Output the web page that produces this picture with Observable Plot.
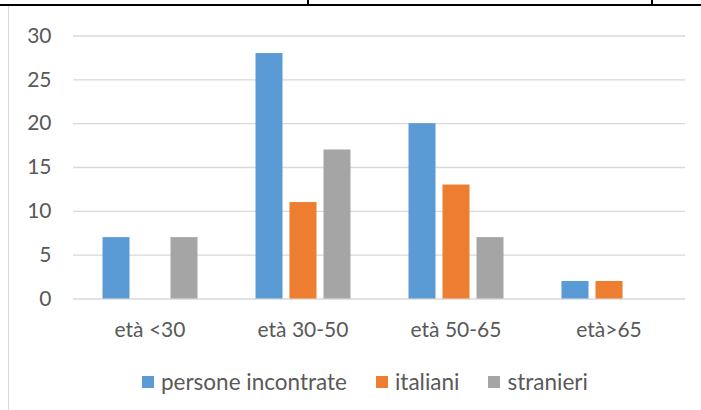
<!DOCTYPE html>
<html>
<head>
<meta charset="utf-8">
<script src="https://cdn.jsdelivr.net/npm/d3@7"></script>
<script src="https://cdn.jsdelivr.net/npm/@observablehq/plot@0.6"></script>
<style>
  html, body { margin: 0; padding: 0; background: #fff; }
  #wrap { position: relative; width: 701px; height: 410px; overflow: hidden; background: #fff; font-family: Lato, sans-serif; }
  #topline { position: absolute; left: 0; top: 4px; width: 701px; height: 2px; background: #000; }
  .tick { position: absolute; top: 0; width: 2px; height: 5px; background: #000; }
  #frame { position: absolute; left: 8px; top: 6px; width: 1px; height: 404px; background: #d9d9d9; }
  #chart { position: absolute; left: 0; top: 0; }
  #legend { position: absolute; left: 142px; top: 368px; display: flex; align-items: center; font-family: Lato, sans-serif; font-size: 22.5px; color: #595959; white-space: nowrap; }
  .item { display: flex; align-items: center; margin-right: 29px; }
  .sw { width: 12px; height: 12px; margin-right: 7px; }
</style>
</head>
<body>
<div id="wrap">
  <div id="frame"></div>
  <div id="topline"></div>
  <div class="tick" style="left:307px"></div>
  <div class="tick" style="left:651px"></div>
  <div id="chart"></div>
  <div id="legend"></div>
</div>
<script>
const categories = ["età <30", "età 30-50", "età 50-65", "età>65"];
const seriesNames = ["persone incontrate", "italiani", "stranieri"];
const persone = [7, 28, 20, 2];
const italiani = [0, 11, 13, 2];
const stranieri = [7, 17, 7, 0];
const yTicks = [0, 5, 10, 15, 20, 25, 30];
const colors = ["#5b9bd5", "#ed7d31", "#a5a5a5"];

const seriesValues = [persone, italiani, stranieri];
const data = [];
categories.forEach((c, i) => {
  seriesNames.forEach((s, j) => {
    data.push({group: c, series: s, value: seriesValues[j][i]});
  });
});

const chart = Plot.plot({
  width: 701,
  height: 345,
  marginTop: 35.5,
  marginBottom: 46.5,
  marginLeft: 72.5,
  marginRight: 16.5,
  style: {fontFamily: "Lato, sans-serif", fontSize: "21px", color: "#595959", background: "transparent"},
  facet: {data: data, x: "group"},
  fx: {domain: categories, axis: "bottom", paddingInner: 0, paddingOuter: 0, tickSize: 0, tickPadding: 23, label: null},
  x: {domain: seriesNames, axis: null, paddingInner: 0.22, paddingOuter: 0.86},
  y: {domain: [0, 30], ticks: yTicks, tickSize: 0, tickPadding: 22, label: null},
  color: {domain: seriesNames, range: colors},
  marks: [
    Plot.ruleY(yTicks, {stroke: "#d9d9d9", strokeWidth: 1.3}),
    Plot.barY(data, {x: "series", y: "value", fill: "series"})
  ]
});
document.getElementById("chart").appendChild(chart);

const legend = document.getElementById("legend");
seriesNames.forEach((s, j) => {
  const item = document.createElement("div");
  item.className = "item";
  const sw = document.createElement("div");
  sw.className = "sw";
  sw.style.background = colors[j];
  const t = document.createElement("span");
  t.textContent = s;
  item.appendChild(sw);
  item.appendChild(t);
  legend.appendChild(item);
});
</script>
</body>
</html>
